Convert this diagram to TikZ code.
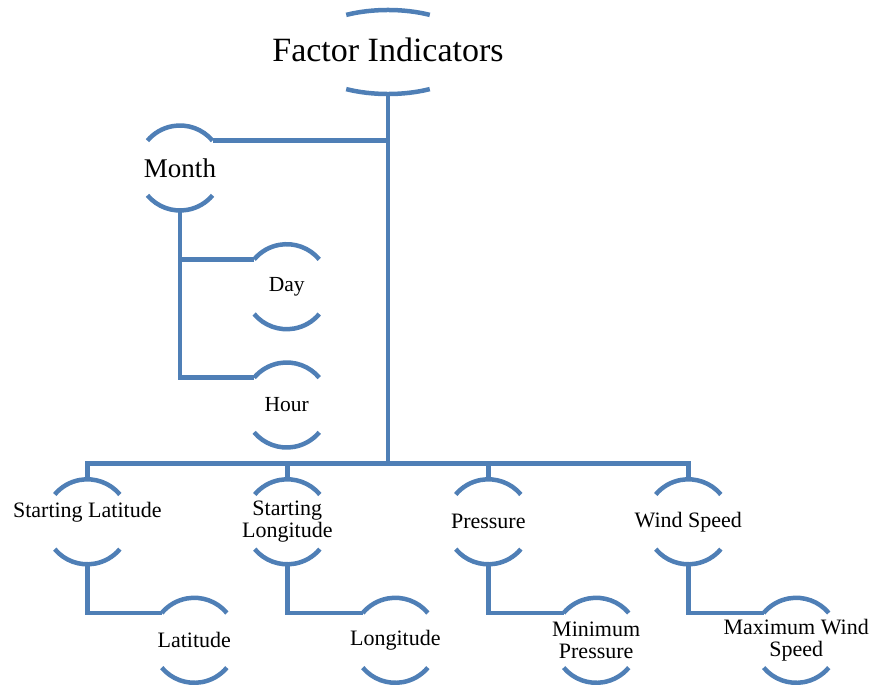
\documentclass[tikz,border=0pt]{standalone}
\usepackage{fontspec}
\setmainfont{Liberation Serif}
\usetikzlibrary{calc}
\definecolor{arcblue}{RGB}{79,127,182}
% radius of the round arc pairs
\newcommand\R{42.5}
% \arcnode[text options]{name}{x}{y}{text}: label with an arc above and below
\newcommand\arcnode[5][]{%
  \coordinate (#2-c) at (#3,#4);
  \node[lbl,#1] (#2) at (#2-c) {#5};
  \coordinate (#2-top) at ($(#2-c)+(0,\R)$);
  \coordinate (#2-bot) at ($(#2-c)+(0,-\R)$);
  \coordinate (#2-tl) at ($(#2-c)+(140:\R)$);
  \coordinate (#2-tr) at ($(#2-c)+(40:\R)$);
  \draw[conn] (#2-tr) arc[start angle=40,end angle=140,radius=\R];
  \draw[conn] ($(#2-c)+(220:\R)$) arc[start angle=220,end angle=320,radius=\R];
}
\begin{document}
\begin{tikzpicture}[x=1pt,y=1pt,
  conn/.style={draw=arcblue,line width=4.5pt,line join=miter,line cap=butt},
  lbl/.style={inner sep=0pt,align=center,text=black,font=\fontsize{22}{21.5}\selectfont},
  small/.style={font=\fontsize{21.5}{21.5}\selectfont}]
\useasboundingbox (0,0) rectangle (871,-685);

% root with flat elliptic arcs
\coordinate (factor-c) at (388,-52);
\node[lbl,font=\fontsize{34}{36}\selectfont] (factor) at (388,-50) {Factor Indicators};
\coordinate (factor-bot) at (388,-94);
\draw[conn] ($(factor-c)+(41.8,37.1)$) arc[start angle=62,end angle=118,x radius=89,y radius=42];
\draw[conn] ($(factor-c)+(-41.8,-37.1)$) arc[start angle=242,end angle=298,x radius=89,y radius=42];

% time branch
\arcnode[font=\fontsize{27}{30}\selectfont]{month}{180}{-168}{Month}
\arcnode[small]{day}{286.7}{-286.7}{Day}
\arcnode[small]{hour}{286.7}{-405}{Hour}

% second level
\arcnode[yshift=10pt]{slat}{87.3}{-521.8}{Starting Latitude}
\arcnode{slon}{287.3}{-521.8}{Starting\\Longitude}
\arcnode{pres}{488.3}{-521.8}{Pressure}
\arcnode{wind}{688.3}{-521.8}{Wind Speed}

% third level
\arcnode{lat}{194.3}{-640.3}{Latitude}
\arcnode{lon}{395.3}{-640.3}{Longitude}
\arcnode{minp}{596.2}{-640.3}{Minimum\\Pressure}
\arcnode{maxw}{796.2}{-640.3}{Maximum Wind\\Speed}

% connectors
\coordinate (bus) at (388,-463.3);
\draw[conn] (factor-bot) -- (bus);
\draw[conn] (month-tr) -- (month-tr -| factor-c);
\draw[conn] (month-bot) |- (day-tl);
\draw[conn] (month-bot) |- (hour-tl);
\draw[conn] (slat-top) -- (slat-top |- bus) -- (wind-top |- bus) -- (wind-top);
\draw[conn] (slon-top |- bus) -- (slon-top);
\draw[conn] (pres-top |- bus) -- (pres-top);
\draw[conn] (slat-bot) |- (lat-tl);
\draw[conn] (slon-bot) |- (lon-tl);
\draw[conn] (pres-bot) |- (minp-tl);
\draw[conn] (wind-bot) |- (maxw-tl);
\end{tikzpicture}
\end{document}
